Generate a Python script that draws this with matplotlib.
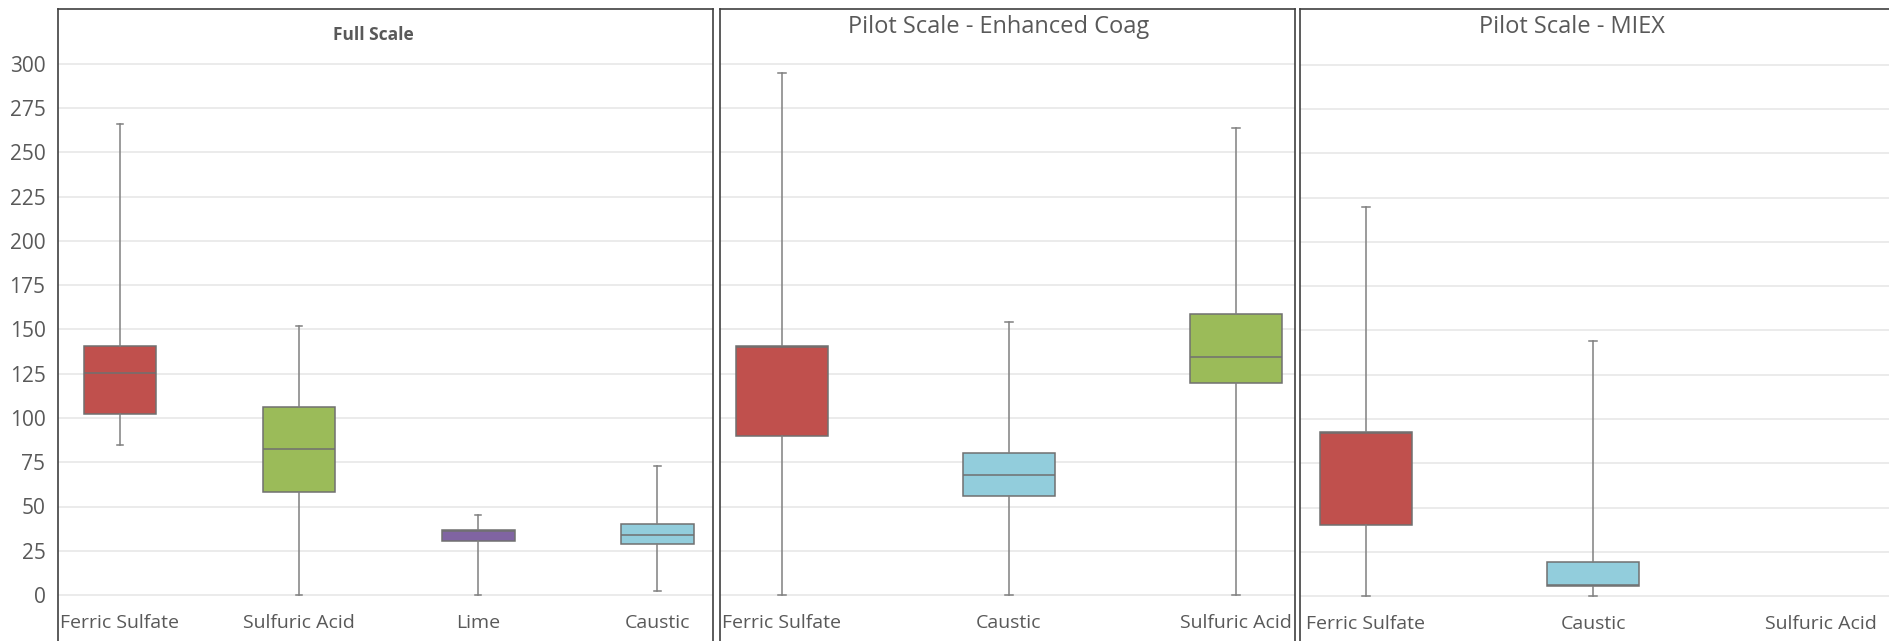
import matplotlib
matplotlib.use('Agg')
import matplotlib.pyplot as plt
from matplotlib.transforms import blended_transform_factory

# Full Scale
full_labels = ['Ferric Sulfate', 'Sulfuric Acid', 'Lime', 'Caustic']
full_low = [85, 0, 0, 2]
full_q1 = [102, 58, 30.5, 29]
full_med = [125.5, 82.5, 36, 34]
full_q3 = [140.5, 106, 36.5, 40]
full_high = [266, 152, 45, 73]
full_colors = ['#C0504D', '#9BBB59', '#8064A2', '#92CDDC']

# Pilot Scale - Enhanced Coag
coag_labels = ['Ferric Sulfate', 'Caustic', 'Sulfuric Acid']
coag_low = [0, 0, 0]
coag_q1 = [90, 56, 119.5]
coag_med = [140, 68, 134.5]
coag_q3 = [140.5, 80.5, 158.5]
coag_high = [295, 154, 264]
coag_colors = ['#C0504D', '#92CDDC', '#9BBB59']

# Pilot Scale - MIEX (no data for Sulfuric Acid)
miex_labels = ['Ferric Sulfate', 'Caustic', 'Sulfuric Acid']
miex_low = [0, 0]
miex_q1 = [40, 5.5]
miex_med = [92, 6]
miex_q3 = [92.5, 19]
miex_high = [220, 144]
miex_colors = ['#C0504D', '#92CDDC']

y_ticks = list(range(0, 301, 25))

W, H = 1890, 641
plt.rcParams['font.family'] = ['Open Sans', 'DejaVu Sans']
text_color = '#595959'
line_color = '#808080'

fig = plt.figure(figsize=(W / 100, H / 100), dpi=100)


def make_axes(x0, x1, y_top=9, y_bot=643):
    return fig.add_axes([x0 / W, 1 - y_bot / H, (x1 - x0) / W, (y_bot - y_top) / H])


def draw_panel(ax, labels, low, q1, med, q3, high, colors, xlim, ylim):
    stats = []
    for i in range(len(low)):
        stats.append({'whislo': low[i], 'q1': q1[i], 'med': med[i],
                      'q3': q3[i], 'whishi': high[i], 'fliers': []})
    res = ax.bxp(stats, positions=list(range(len(stats))), widths=0.405,
                 patch_artist=True, showfliers=False, capwidths=0.035,
                 boxprops=dict(edgecolor='#707070', linewidth=1.1),
                 medianprops=dict(color='#707070', linewidth=1.1),
                 whiskerprops=dict(color=line_color, linewidth=1.1),
                 capprops=dict(color=line_color, linewidth=1.1))
    for box, c in zip(res['boxes'], colors):
        box.set_facecolor(c)
    ax.set_xlim(*xlim)
    ax.set_ylim(*ylim)
    ax.set_yticks(y_ticks)
    ax.grid(axis='y', color='#E8E8E8', linewidth=1.2)
    ax.set_axisbelow(True)
    ax.set_xticks([])
    ax.tick_params(axis='y', length=0, labelleft=False)
    for s in ax.spines.values():
        s.set_color('#404040')
        s.set_linewidth(1.2)
    # category names sit inside the frame, under the zero line
    trans = blended_transform_factory(ax.transData, ax.transData)
    for i, lab in enumerate(labels):
        ax.text(i, -16, lab, transform=trans, ha='center', va='center',
                fontsize=14, color=text_color)


# pixels per unit on the value axis ~1.77
def ylims(zero_px, top_px=9, bot_px=643, ppu=1.77):
    return (-(bot_px - zero_px) / ppu, (zero_px - top_px) / ppu)


ax1 = make_axes(58, 713)
draw_panel(ax1, full_labels, full_low, full_q1, full_med, full_q3, full_high,
           full_colors, (-0.346, 3.31), ylims(595))
ax1.tick_params(axis='y', labelleft=True, pad=9, labelsize=15, labelcolor=text_color)

ax2 = make_axes(720, 1295)
draw_panel(ax2, coag_labels, coag_low, coag_q1, coag_med, coag_q3, coag_high,
           coag_colors, (-0.273, 2.26), ylims(595))

ax3 = make_axes(1300, 1900)
draw_panel(ax3, miex_labels, miex_low, miex_q1, miex_med, miex_q3, miex_high,
           miex_colors, (-0.29, 2.35), ylims(596))
# keep the last label inside the picture, as in the source
ax3.texts[-1].set_x(2.0)

fig.text(373 / W, 1 - 35 / H, 'Full Scale', ha='center', va='center',
         fontsize=12.5, fontweight='bold', color=text_color)
fig.text(999 / W, 1 - 27 / H, 'Pilot Scale - Enhanced Coag', ha='center', va='center',
         fontsize=17, color=text_color)
fig.text(1572 / W, 1 - 27 / H, 'Pilot Scale - MIEX', ha='center', va='center',
         fontsize=17, color=text_color)

fig.savefig('out.png', dpi=100)
plt.close(fig)
